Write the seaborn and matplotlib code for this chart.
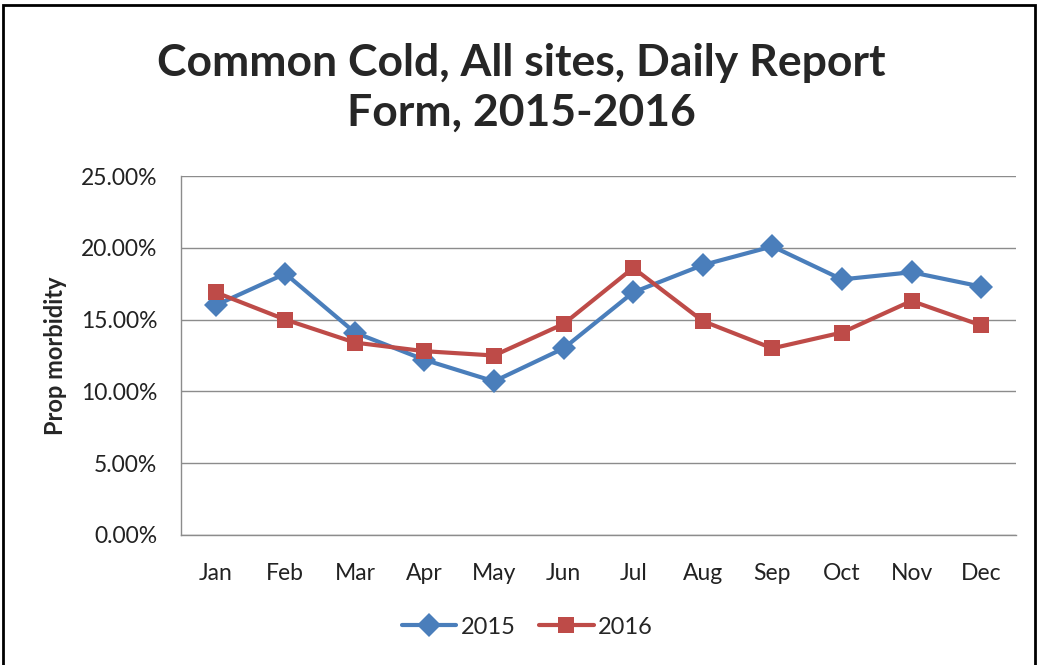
import pandas as pd
import matplotlib
matplotlib.use("Agg")
import matplotlib.pyplot as plt
from matplotlib.patches import Rectangle
from matplotlib.ticker import PercentFormatter
import seaborn as sns

# datos
meses = ["Jan", "Feb", "Mar", "Apr", "May", "Jun",
         "Jul", "Aug", "Sep", "Oct", "Nov", "Dec"]
prop_2015 = [16.0, 18.2, 14.1, 12.2, 10.7, 13.0, 16.9, 18.8, 20.1, 17.8, 18.3, 17.3]
prop_2016 = [16.9, 15.0, 13.4, 12.8, 12.5, 14.7, 18.6, 14.9, 13.0, 14.1, 16.3, 14.6]
years = ["2015", "2016"]

df = pd.DataFrame({
    "mes": meses * 2,
    "prop": prop_2015 + prop_2016,
    "year": [years[0]] * 12 + [years[1]] * 12,
})

sns.set_style("white")
plt.rcParams["font.family"] = ["Lato", "DejaVu Sans"]

fig = plt.figure(figsize=(10.43, 6.65), dpi=100)
ax = fig.add_axes([0.1735, 0.1955, 0.8005, 0.5398])

sns.lineplot(
    data=df,
    x="mes",
    y="prop",
    hue="year",
    style="year",
    palette={"2015": "#4A7EBB", "2016": "#BE4B48"},
    markers={"2015": "D", "2016": "s"},
    dashes=False,
    sort=False,
    linewidth=3,
    markersize=12,
    markeredgewidth=0,
    ax=ax,
)

ax.set_xlim(-0.5, 11.5)
ax.set_ylim(0, 25)
ax.set_yticks([0, 5, 10, 15, 20, 25])
ax.yaxis.set_major_formatter(PercentFormatter(decimals=2))
ax.grid(axis="y", color="#8c8c8c", linewidth=1)
ax.grid(axis="x", visible=False)

# ticks estilo excel en los bordes de categoria
ax.set_xticks(range(12))
ax.set_xticks([i - 0.5 for i in range(13)], minor=True)
ax.tick_params(axis="x", which="major", length=0, pad=20, labelsize=16.5, colors="#222222")
ax.tick_params(axis="x", which="minor", length=7, width=1, color="#8c8c8c", direction="out")
ax.tick_params(axis="y", length=7, width=1, color="#8c8c8c", direction="out",
               pad=10, labelsize=16.5, labelcolor="#222222")

for s in ["top", "right"]:
    ax.spines[s].set_visible(False)
for s in ["left", "bottom"]:
    ax.spines[s].set_color("#8c8c8c")
    ax.spines[s].set_linewidth(1)

ax.set_xlabel("")
ax.set_ylabel("Prop morbidity", fontsize=17, fontweight="bold")
ax.yaxis.set_label_coords(-0.137, 0.5)

fig.text(0.5, 0.868, "Common Cold, All sites, Daily Report\nForm, 2015-2016",
         ha="center", va="center", fontsize=32, fontweight="bold",
         linespacing=1.3)

ax.legend(
    loc="center",
    bbox_to_anchor=(0.415, -0.257),
    ncol=2,
    frameon=False,
    fontsize=17,
    handlelength=2.3,
    columnspacing=1.0,
    handletextpad=0.2,
)

fig.add_artist(Rectangle((3 / 1043, -0.05), 1032 / 1043, 1.05 - 5 / 665,
                         transform=fig.transFigure, fill=False,
                         edgecolor="black", linewidth=2))

fig.savefig("out.png", dpi=100)
